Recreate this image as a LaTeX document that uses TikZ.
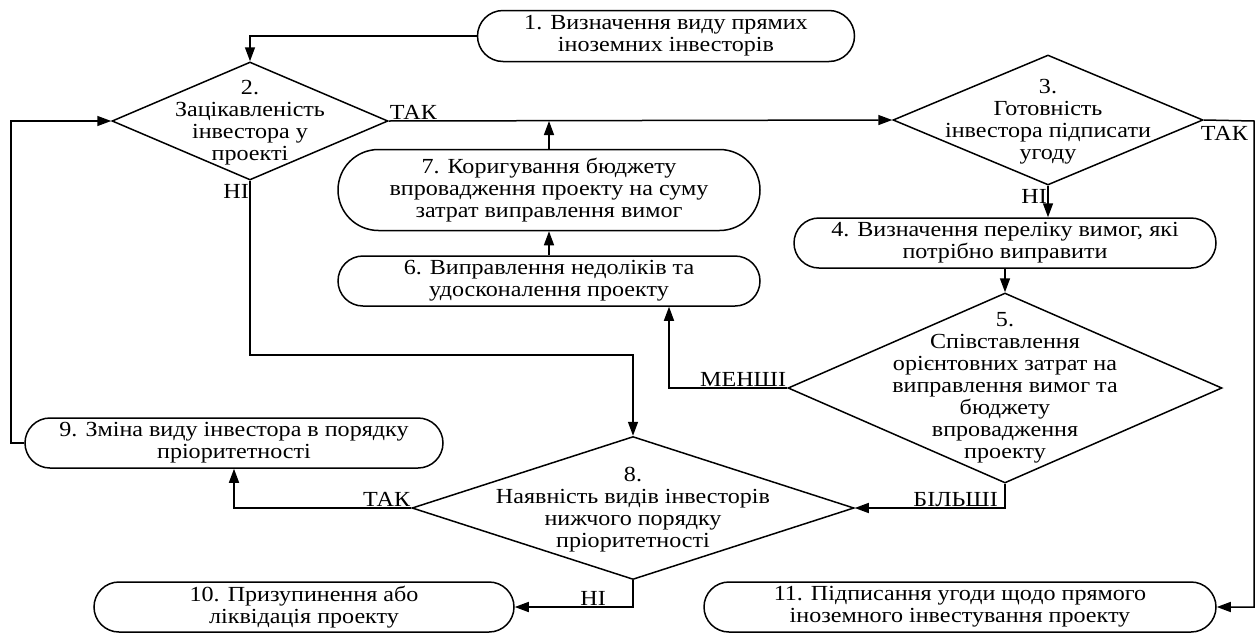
\documentclass[tikz,border=0pt]{standalone}
\usepackage{fontspec}
\setmainfont[FakeStretch=1.12]{Liberation Serif}
\usetikzlibrary{arrows.meta,shapes.geometric,shapes.misc}
\tikzset{
  stad/.style={draw, line width=1.5pt, rounded rectangle, inner sep=0pt, align=center},
  dia/.style={draw, line width=1.5pt, diamond, inner sep=0pt},
  txt/.style={align=center, inner sep=0pt},
  lab/.style={inner sep=1pt},
  arr/.style={line width=1.5pt, -{Triangle[length=14pt,width=10pt]}},
}
\begin{document}
\begin{tikzpicture}[x=1pt,y=-1pt,font=\fontsize{21.5}{22}\selectfont]
\useasboundingbox (0,0) rectangle (1256,635);
% process nodes
\node[stad, minimum width=377pt, minimum height=51pt] (n1) at (666,36) {1. Визначення виду прямих\\іноземних інвесторів};
\node[stad, minimum width=422pt, minimum height=50pt] (n4) at (1005,243) {4. Визначення переліку вимог, які\\потрібно виправити};
\node[stad, minimum width=422pt, minimum height=50pt] (n6) at (549,281) {6. Виправлення недоліків та\\удосконалення проекту};
\node[stad, minimum width=422pt, minimum height=81pt] (n7) at (549,190) {7. Коригування бюджету\\впровадження проекту на суму\\затрат виправлення вимог};
\node[stad, minimum width=418pt, minimum height=50pt] (n9) at (234,443) {9. Зміна виду інвестора в порядку\\пріоритетності};
\node[stad, minimum width=420pt, minimum height=50pt] (n10) at (304,607) {10. Призупинення або\\ліквідація проекту};
\node[stad, minimum width=512pt, minimum height=50pt] (n11) at (960,607) {11. Підписання угоди щодо прямого\\іноземного інвестування проекту};
% decisions
\node[dia, minimum width=276pt, minimum height=118pt] (d2) at (250,121) {};
\node[txt] (t2) at ([yshift=-2pt]d2) {2.\\Зацікавленість\\інвестора у\\проекті};
\node[dia, minimum width=310pt, minimum height=130pt] (d3) at (1048,120) {};
\node[txt] (t3) at ([yshift=-2pt]d3) {3.\\Готовність\\інвестора підписати\\угоду};
\node[dia, minimum width=434pt, minimum height=190pt] (d5) at (1005,388) {};
\node[txt] (t5) at (d5) {5.\\Співставлення\\орієнтовних затрат на\\виправлення вимог та\\бюджету\\впровадження\\проекту};
\node[dia, minimum width=442pt, minimum height=143pt] (d8) at (633,508) {};
\node[txt] (t8) at ([yshift=-2pt]d8) {8.\\Наявність видів інвесторів\\нижчого порядку\\пріоритетності};
% helper coordinates
\coordinate (k1) at (250,355);
\coordinate (k2) at (11,443);
\coordinate (k3) at (1254,121);
% connectors
\draw[arr] (n1.west) -| (d2.north);
\draw[arr] (d2.east) -- (d3.west);
\draw[arr] (d3.south) -- (d3.south |- n4.north);
\draw[arr] (n4.south) -- (d5.north);
\draw[arr] (d5.west) -| ([xshift=120pt]n6.south);
\draw[arr] (n6.north) -- (n7.south);
\draw[arr] (n7.north) -- (n7.north |- d2.east);
\draw[arr] (d2.south) -- (k1) -| (d8.north);
\draw[arr] (d5.south) |- (d8.east);
\draw[arr] (d8.west) -| (n9.south);
\draw[arr] (n9.west) -- (k2) |- (d2.west);
\draw[arr] (d8.south) |- (n10.east);
\draw[arr] (d3.east) -- (k3) |- (n11.east);
% labels
\node[lab, anchor=south west] (l1) at (d2.east) {ТАК};
\node[lab, anchor=north east] (l2) at ([yshift=-2pt]d2.south) {НІ};
\node[lab, anchor=north east] (l3) at ([yshift=-2pt]d3.south) {НІ};
\node[lab, anchor=north west] (l4) at ([xshift=-4pt,yshift=-5pt]d3.east) {ТАК};
\node[lab, anchor=south east] (l5) at (d5.west) {МЕНШІ};
\node[lab, anchor=south east] (l6) at ([xshift=-6pt]d5.south |- d8.east) {БІЛЬШІ};
\node[lab, anchor=south east] (l7) at (d8.west) {ТАК};
\node[lab, anchor=south east] (l8) at ([xshift=-26pt]d8.south |- n10.east) {НІ};
\end{tikzpicture}
\end{document}
